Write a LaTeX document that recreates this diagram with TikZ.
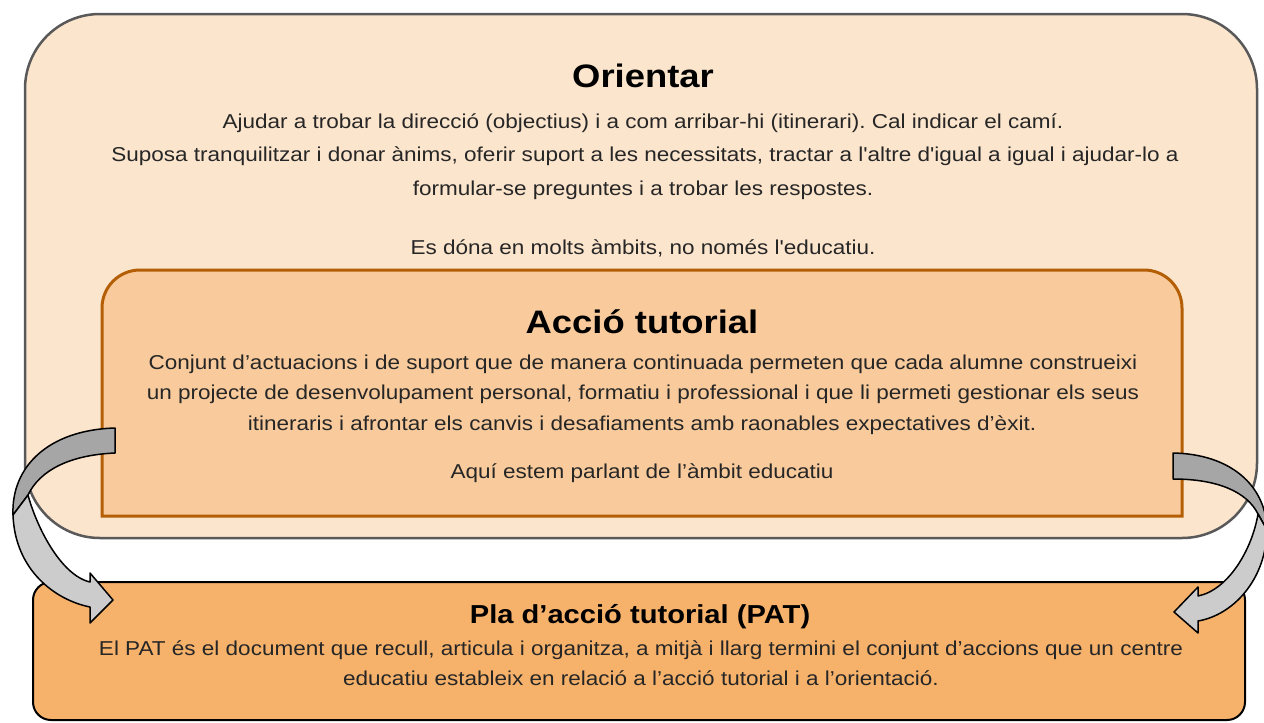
\documentclass[tikz,border=0pt]{standalone}
\usepackage{fontspec}
\newfontfamily\bodyfont[FakeStretch=1.12]{Liberation Sans}
\frenchspacing
\definecolor{outerfill}{HTML}{FCE5CD}
\definecolor{outerline}{HTML}{595959}
\definecolor{innerfill}{HTML}{F9CB9C}
\definecolor{innerline}{HTML}{B45F06}
\definecolor{patfill}{HTML}{F6B26B}
\definecolor{bodytext}{HTML}{262626}
\definecolor{arrowdark}{HTML}{A6A6A6}
\definecolor{arrowlight}{HTML}{CCCCCC}
\tikzset{
  body/.style={anchor=base, inner sep=0pt, text=bodytext, font=\bodyfont\fontsize{20.1}{24}\selectfont},
  ttl/.style={anchor=base, inner sep=0pt, text=black, font=\bodyfont\bfseries\fontsize{32.5}{36}\selectfont},
  pattl/.style={anchor=base, inner sep=0pt, text=black, font=\bodyfont\bfseries\fontsize{26}{30}\selectfont},
  outerbox/.style={draw=outerline, fill=outerfill, line width=2.5pt, rounded corners=75pt},
  innerbox/.style={draw=innerline, fill=innerfill, line width=3pt},
  patbox/.style={draw=black, fill=patfill, line width=2pt, rounded corners=18pt},
  darkarrow/.style={draw=black, fill=arrowdark, line width=1.5pt, line join=round},
  lightarrow/.style={draw=black, fill=arrowlight, line width=1.5pt, line join=round},
}
\begin{document}
\begin{tikzpicture}[x=1pt, y=-1pt]
\useasboundingbox (0,0) rectangle (1264,723);
\clip (0,0) rectangle (1264,723);
% boxes
\draw[outerbox] (25,14) rectangle (1257,538);
\draw[innerbox] (102,516) -- (102,308) .. controls (102,287) and (119,270) .. (140,270)
  -- (1144,270) .. controls (1165,270) and (1182,287) .. (1182,308) -- (1182,516) -- cycle;
\draw[patbox] (33,582) rectangle (1245,720);
% Orientar texts
\node[ttl] (otitle) at (643,87) {Orientar};
\node[body] (o1) at (643,128) {Ajudar a trobar la direcció (objectius) i a com arribar-hi (itinerari). Cal indicar el camí.};
\node[body] (o2) at (645,161.5) {Suposa tranquilitzar i donar ànims, oferir suport a les necessitats, tractar a l'altre d'igual a igual i ajudar-lo a};
\node[body] (o3) at (643,195) {formular-se preguntes i a trobar les respostes.};
\node[body] (o4) at (643,254) {Es dóna en molts àmbits, no només l'educatiu.};
% Accio tutorial texts
\node[ttl] (atitle) at (642,333) {Acció tutorial};
\node[body] (a1) at (643,369) {Conjunt d’actuacions i de suport que de manera continuada permeten que cada alumne construeixi};
\node[body] (a2) at (643,399) {un projecte de desenvolupament personal, formatiu i professional i que li permeti gestionar els seus};
\node[body] (a3) at (642,430) {itineraris i afrontar els canvis i desafiaments amb raonables expectatives d’èxit.};
\node[body] (a4) at (642,478) {Aquí estem parlant de l’àmbit educatiu};
% PAT texts
\node[pattl] (ptitle) at (640,623) {Pla d’acció tutorial (PAT)};
\node[body] (p1) at (641,655) {El PAT és el document que recull, articula i organitza, a mitjà i llarg termini el conjunt d’accions que un centre};
\node[body] (p2) at (641,685) {educatiu estableix en relació a l’acció tutorial i a l’orientació.};
% left curved arrow
\filldraw[darkarrow] (115,428) .. controls (48,430) and (11,467) .. (13,515)
  -- (28,495) .. controls (40,470) and (70,455) .. (115,453) -- cycle;
\filldraw[lightarrow] (13,515) .. controls (15,570) and (55,600) .. (90,607)
  -- (90,623) -- (113,600) -- (90,573) -- (90,582)
  .. controls (60,575) and (36,525) .. (28,495) -- cycle;
% right curved arrow
\filldraw[darkarrow] (1173,453) .. controls (1230,454) and (1266,485) .. (1267,530)
  -- (1258,514) .. controls (1247,492) and (1218,479) .. (1173,479) -- cycle;
\filldraw[lightarrow] (1267,530) .. controls (1266,580) and (1233,615) .. (1198,621)
  -- (1198,633) -- (1174,612) -- (1198,587) -- (1198,596)
  .. controls (1228,590) and (1252,550) .. (1258,514) -- cycle;
\end{tikzpicture}
\end{document}
